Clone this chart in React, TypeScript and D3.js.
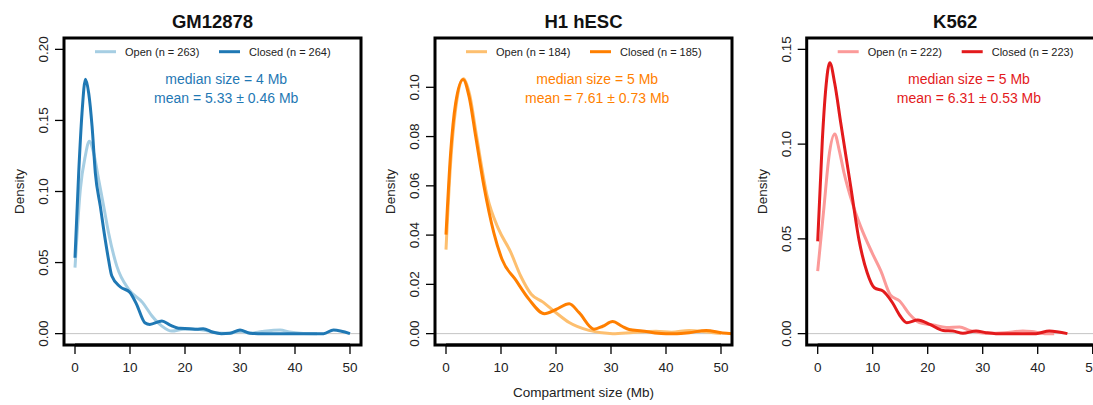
import React from "react";
import * as d3 from "d3";

// ---------- data ----------
const panelTitles = ["GM12878", "H1 hESC", "K562"];
const openN = [263, 184, 222];
const closedN = [264, 185, 223];
const medianText = ["median size = 4 Mb", "median size = 5 Mb", "median size = 5 Mb"];
const meanText = ["mean = 5.33 ± 0.46 Mb", "mean = 7.61 ± 0.73 Mb", "mean = 6.31 ± 0.53 Mb"];
const openColors = ["#a6cee3", "#fdbf6f", "#fb9a99"];
const closedColors = ["#1f78b4", "#ff7f00", "#e31a1c"];
const yMaxes = [0.2, 0.1154, 0.15];
const xTicks = [0, 10, 20, 30, 40, 50];
const yTicksGM = [0, 0.05, 0.1, 0.15, 0.2];
const yTicksH1 = [0, 0.02, 0.04, 0.06, 0.08, 0.1];
const yTicksK = [0, 0.05, 0.1, 0.15];

const gmClosed: [number, number][] = [
  [0, 0.0534], [0.67, 0.113], [1.27, 0.155], [1.9, 0.179], [2.5, 0.169], [3.1, 0.146],
  [3.7, 0.113], [4.6, 0.0897], [5.5, 0.066], [6.1, 0.052], [6.7, 0.0405], [8.2, 0.033],
  [10, 0.029], [11.2, 0.0206], [12.7, 0.0077], [13.6, 0.0065], [15.8, 0.0089], [17.3, 0.006],
  [19.1, 0.0037], [20.9, 0.0035], [22.1, 0.003], [23.3, 0.0035], [25.1, 0.001], [26.6, 0.0],
  [28.2, 0.0003], [30, 0.0026], [31.8, 0.0003], [34, 0.0], [40, 0.0], [45.2, 0.0],
  [47, 0.0026], [50, 0.0],
];
const gmOpen: [number, number][] = [
  [0, 0.0464], [0.97, 0.1015], [1.87, 0.125], [2.6, 0.1354], [3.4, 0.127], [4.3, 0.1085],
  [5.2, 0.09], [6.1, 0.071], [7.6, 0.0475], [9.8, 0.031], [12.3, 0.0218], [14.0, 0.0124],
  [15.8, 0.0053], [17.6, 0.0018], [19.7, 0.003], [22, 0.003], [24, 0.002], [26, 0.0005],
  [28, 0.0003], [30, 0.0015], [32, 0.0005], [34, 0.0015], [37.3, 0.0025], [39, 0.0012],
  [41, 0.0003], [44, 0.0],
];
const h1Closed: [number, number][] = [
  [0, 0.0402], [0.84, 0.0733], [1.75, 0.0935], [3.1, 0.1032], [4.2, 0.0962], [5.4, 0.08],
  [6.9, 0.0598], [8.7, 0.0409], [10.2, 0.0301], [12.7, 0.0217], [15.1, 0.0139], [17.9, 0.0081],
  [20, 0.0098], [22.4, 0.0121], [24.2, 0.0085], [26.9, 0.0018], [28.5, 0.003], [30.3, 0.0049],
  [32, 0.003], [33.3, 0.0017], [35.7, 0.0011], [38, 0.0003], [40, 0.0], [42, 0.0],
  [44.2, 0.0004], [47.3, 0.0013], [50.3, 0.0003], [52, 0.0],
];
const h1Open: [number, number][] = [
  [0, 0.0341], [0.8, 0.068], [1.8, 0.092], [3.2, 0.1035], [4.3, 0.097], [5.5, 0.081],
  [7.5, 0.0557], [9.6, 0.0422], [11.7, 0.0334], [13.6, 0.0233], [15.5, 0.016], [17.5, 0.013],
  [20, 0.0085], [22.4, 0.0045], [26, 0.0013], [30.3, 0.0], [34, 0.0005], [38.2, 0.001],
  [41, 0.0006], [44.2, 0.0013], [47, 0.0008], [50, 0.0],
];
const kClosed: [number, number][] = [
  [0, 0.0487], [0.84, 0.102], [1.45, 0.1286], [2.2, 0.143], [3.1, 0.132], [4.2, 0.111],
  [6.0, 0.0777], [7.5, 0.0496], [9.0, 0.0321], [10.3, 0.0242], [11.9, 0.0224], [13.6, 0.0163],
  [15.0, 0.0093], [16.2, 0.0058], [18.2, 0.0072], [20.4, 0.0049], [22.8, 0.0017], [24.6, 0.0014],
  [26.4, 0.0002], [28.8, 0.0014], [30.6, 0.0005], [32.4, 0.0], [39.7, 0.0], [42.1, 0.0014],
  [45.4, 0.0],
];
const kOpen: [number, number][] = [
  [0, 0.033], [1.15, 0.067], [2.05, 0.0935], [3.1, 0.1053], [3.9, 0.097], [4.8, 0.0847],
  [6.3, 0.069], [7.8, 0.0566], [9.9, 0.0426], [11.5, 0.033], [13.2, 0.0205], [14.9, 0.0172],
  [16.7, 0.0102], [18.5, 0.0058], [21, 0.0045], [23.4, 0.0033], [25.8, 0.0035], [27.6, 0.0017],
  [30.6, 0.0002], [34, 0.0005], [37.3, 0.0014], [38.9, 0.0011], [41.3, 0.0], [43, 0.0],
];

const openSeries = [gmOpen, h1Open, kOpen];
const closedSeries = [gmClosed, h1Closed, kClosed];
const yTickSets = [yTicksGM, yTicksH1, yTicksK];

// ---------- layout ----------
const W = 1093;
const H = 405;
const boxLefts = [64, 435, 806.7];
const boxW = 297;
const boxTop = 38;
const boxBottom = 345;
const FONT = "'Liberation Sans', Arial, Helvetica, sans-serif";

function Panel({ i }: { i: number }) {
  const left = boxLefts[i];
  const x = d3.scaleLinear().domain([-2, 52]).range([left, left + boxW]);
  const ymax = yMaxes[i];
  const y = d3.scaleLinear().domain([-0.04 * ymax, 1.04 * ymax]).range([boxBottom, boxTop]);
  const line = d3
    .line<[number, number]>()
    .x((d) => x(d[0]))
    .y((d) => y(d[1]))
    .curve(d3.curveMonotoneX);
  const clipId = `clip${i}`;
  const fmt = i === 1 ? d3.format(".2f") : d3.format(".2f");
  const cx = x(27.5);
  return (
    <g>
      <defs>
        <clipPath id={clipId}>
          <rect x={left} y={boxTop} width={boxW} height={boxBottom - boxTop} />
        </clipPath>
      </defs>
      <line x1={left} x2={left + boxW} y1={y(0)} y2={y(0)} stroke="#c4c4c4" strokeWidth={1} />
      <g clipPath={`url(#${clipId})`}>
        <path d={line(openSeries[i]) || ""} fill="none" stroke={openColors[i]} strokeWidth={3} strokeLinejoin="round" />
        <path d={line(closedSeries[i]) || ""} fill="none" stroke={closedColors[i]} strokeWidth={3} strokeLinejoin="round" />
      </g>
      <rect x={left} y={boxTop} width={boxW} height={boxBottom - boxTop} fill="none" stroke="#000" strokeWidth={3} />
      {/* x axis */}
      <line x1={x(0)} x2={x(50)} y1={boxBottom} y2={boxBottom} stroke="#000" strokeWidth={3} />
      {xTicks.map((t) => (
        <g key={`xt${t}`}>
          <line x1={x(t)} x2={x(t)} y1={boxBottom} y2={boxBottom + 9} stroke="#000" strokeWidth={1.3} />
          <text x={x(t)} y={boxBottom + 26.5} textAnchor="middle" fontSize={13.5} fontFamily={FONT} fill="#222">
            {t}
          </text>
        </g>
      ))}
      {/* y axis */}
      {yTickSets[i].map((t) => (
        <g key={`yt${t}`}>
          <line x1={left - 9} x2={left} y1={y(t)} y2={y(t)} stroke="#000" strokeWidth={1.3} />
          <text
            transform={`translate(${left - 16},${y(t)}) rotate(-90)`}
            textAnchor="middle"
            fontSize={13.5}
            fontFamily={FONT}
            fill="#222"
          >
            {fmt(t)}
          </text>
        </g>
      ))}
      <text
        transform={`translate(${left - 40},${(boxTop + boxBottom) / 2}) rotate(-90)`}
        textAnchor="middle"
        fontSize={13.5}
        fontFamily={FONT}
        fill="#222"
      >
        Density
      </text>
      {/* title */}
      <text x={left + boxW / 2} y={27.5} textAnchor="middle" fontSize={18.5} fontWeight="bold" fontFamily={FONT} fill="#111">
        {panelTitles[i]}
      </text>
      {/* legend */}
      <line x1={left + 31} x2={left + 52} y1={51.7} y2={51.7} stroke={openColors[i]} strokeWidth={3} />
      <text x={left + 61} y={55.6} fontSize={11} fontFamily={FONT} fill="#222">
        {`Open (n = ${openN[i]})`}
      </text>
      <line x1={left + 155} x2={left + 176} y1={51.7} y2={51.7} stroke={closedColors[i]} strokeWidth={3} />
      <text x={left + 185} y={55.6} fontSize={11} fontFamily={FONT} fill="#222">
        {`Closed (n = ${closedN[i]})`}
      </text>
      {/* stats */}
      <text x={cx} y={83.5} textAnchor="middle" fontSize={14} fontFamily={FONT} fill={closedColors[i]}>
        {medianText[i]}
      </text>
      <text x={cx} y={102.5} textAnchor="middle" fontSize={14} fontFamily={FONT} fill={closedColors[i]}>
        {meanText[i]}
      </text>
    </g>
  );
}

export default function App() {
  return (
    <svg
      width={W}
      height={H}
      viewBox={`0 0 ${W} ${H}`}
      style={{ position: "absolute", left: 0, top: 0, background: "#fff" }}
    >
      <rect x={0} y={0} width={W} height={H} fill="#fff" />
      {panelTitles.map((_, i) => (
        <Panel key={i} i={i} />
      ))}
      <text x={boxLefts[1] + boxW / 2} y={397} textAnchor="middle" fontSize={13.5} fontFamily={FONT} fill="#222">
        Compartment size (Mb)
      </text>
    </svg>
  );
}
